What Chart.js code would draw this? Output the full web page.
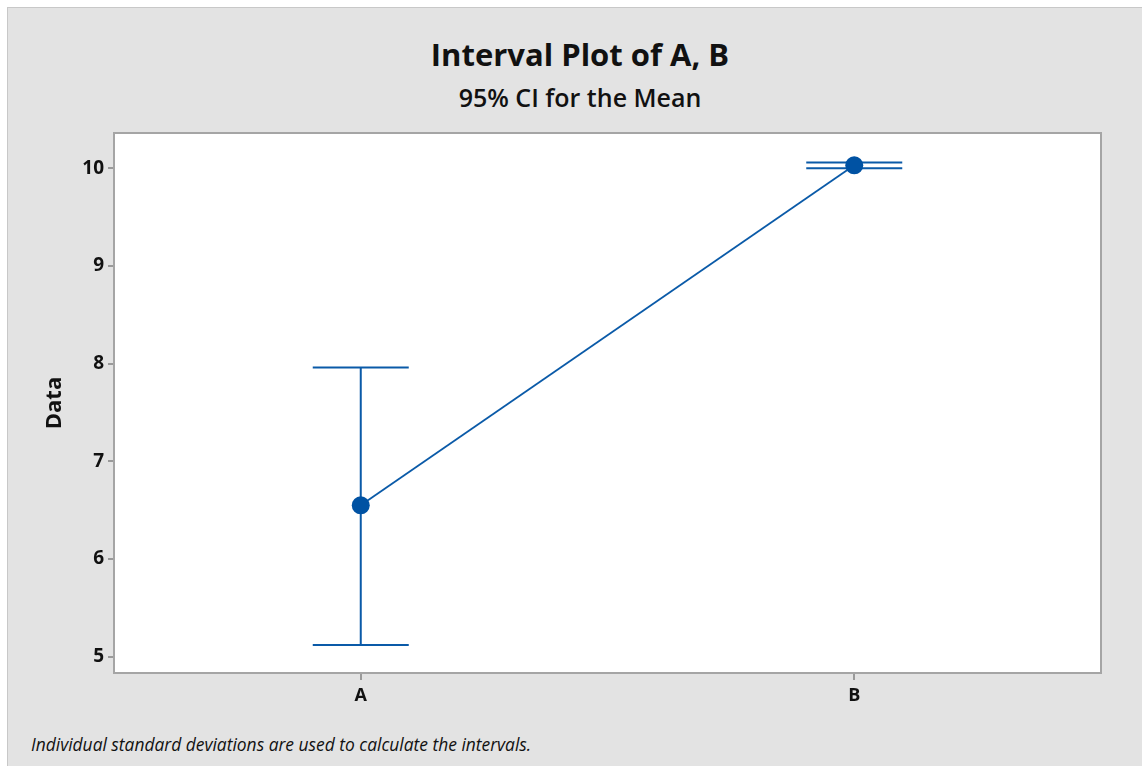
<!DOCTYPE html>
<html>
<head>
<meta charset="utf-8">
<script src="https://cdn.jsdelivr.net/npm/chart.js@4"></script>
<style>
  html, body { margin: 0; padding: 0; background: #fff; }
  body { width: 1142px; height: 766px; position: relative; overflow: hidden; font-family: 'Open Sans', sans-serif; }
  .frame { position: absolute; left: 7px; top: 7px; width: 1140px; height: 765px; background: #e3e3e3; border-left: 1px solid #c8c8c8; border-top: 1px solid #c8c8c8; }
  .title { position: absolute; left: 0; width: 1160px; text-align: center; color: #111; }
  #t1 { top: 33px; font-size: 31px; font-weight: 700; }
  #t2 { top: 80px; font-size: 25px; font-weight: 600; }
  #note { position: absolute; left: 31px; top: 732px; font-size: 17.4px; font-style: italic; color: #111; }
  #wrap { position: absolute; left: 0; top: 0; width: 1142px; height: 766px; }
</style>
</head>
<body>
<div class="frame"></div>
<div class="title" id="t1">Interval Plot of A, B</div>
<div class="title" id="t2">95% CI for the Mean</div>
<div id="note">Individual standard deviations are used to calculate the intervals.</div>
<div id="wrap"><canvas id="chart"></canvas></div>
<script>
const categories = ['A', 'B'];
const means = [6.55, 10.03];
const lowerCI = [5.12, 10.00];
const upperCI = [7.96, 10.06];
const yTicks = [5, 6, 7, 8, 9, 10];

const BLUE = '#0a5aa8';

// white plot area + grey frame around it
const plotFrame = {
    id: 'plotFrame',
    beforeDraw(chart) {
        const { ctx, chartArea: a } = chart;
        ctx.save();
        ctx.fillStyle = '#ffffff';
        ctx.fillRect(a.left, a.top, a.right - a.left, a.bottom - a.top);
        ctx.restore();
    },
    afterDraw(chart) {
        const { ctx, chartArea: a } = chart;
        ctx.save();
        ctx.strokeStyle = '#a5a5a5';
        ctx.lineWidth = 2;
        ctx.strokeRect(a.left, a.top, a.right - a.left, a.bottom - a.top);
        ctx.restore();
    }
};

// confidence interval bars, drawn under the mean points
const intervalBars = {
    id: 'intervalBars',
    beforeDatasetsDraw(chart) {
        const { ctx, scales: { x, y } } = chart;
        const capHalf = 48;
        ctx.save();
        ctx.strokeStyle = BLUE;
        ctx.lineWidth = 2;
        categories.forEach((c, i) => {
            const px = x.getPixelForValue(i);
            const yLo = y.getPixelForValue(lowerCI[i]);
            const yHi = y.getPixelForValue(upperCI[i]);
            ctx.beginPath();
            ctx.moveTo(px, yLo);
            ctx.lineTo(px, yHi);
            ctx.moveTo(px - capHalf, yLo);
            ctx.lineTo(px + capHalf, yLo);
            ctx.moveTo(px - capHalf, yHi);
            ctx.lineTo(px + capHalf, yHi);
            ctx.stroke();
        });
        ctx.restore();
    }
};

const fam = "'Open Sans', sans-serif";

new Chart(document.getElementById('chart'), {
    type: 'line',
    data: {
        labels: categories,
        datasets: [{
            data: means,
            borderColor: BLUE,
            borderWidth: 1.8,
            backgroundColor: '#0052a3',
            pointBackgroundColor: '#0052a3',
            pointBorderColor: '#0052a3',
            pointRadius: 9,
            pointBorderWidth: 0,
            tension: 0
        }]
    },
    options: {
        responsive: true,
        maintainAspectRatio: false,
        animation: false,
        layout: { padding: { left: 0, right: 41, top: 133, bottom: 48 } },
        plugins: {
            legend: { display: false },
            tooltip: { enabled: false }
        },
        scales: {
            x: {
                type: 'category',
                offset: true,
                grid: { drawOnChartArea: false, drawTicks: true, tickLength: 7, tickColor: '#9a9a9a', lineWidth: 2 },
                border: { display: false },
                ticks: { color: '#111', font: { family: fam, size: 18, weight: 'bold' }, padding: 5 },
                afterFit(s) { s.height = 45; }
            },
            y: {
                min: 4.833,
                max: 10.361,
                afterBuildTicks(s) { s.ticks = yTicks.map(v => ({ value: v })); },
                grid: { drawOnChartArea: false, drawTicks: true, tickLength: 6, tickColor: '#9a9a9a', lineWidth: 2 },
                border: { display: false },
                ticks: { color: '#111', font: { family: fam, size: 19, weight: 'bold' }, padding: 4 },
                title: {
                    display: true,
                    text: 'Data',
                    color: '#111',
                    font: { family: fam, size: 22, weight: 'bold' },
                    padding: { top: 42, bottom: 0 }
                },
                afterFit(s) { s.width = 114; }
            }
        }
    },
    plugins: [plotFrame, intervalBars]
});
</script>
</body>
</html>
